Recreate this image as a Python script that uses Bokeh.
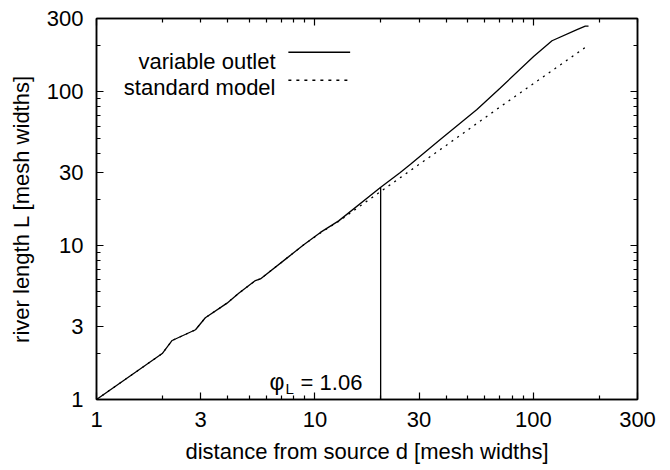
from bokeh.plotting import figure
from bokeh.models import Range1d, LogAxis, FixedTicker, Label, Arrow, PrintfTickFormatter
from bokeh.embed import file_html
from bokeh.resources import INLINE

# ---- data ----
d_variable = [1, 2.0, 2.22, 2.84, 3.15, 3.96, 4.48, 5.34, 5.63, 7.59, 8.89, 10.6, 12.85,
              19.95, 24.6, 27.4, 37.5, 55.2, 70.6, 100.3, 121.8, 158.5, 173, 179]
L_variable = [1, 1.99, 2.42, 2.84, 3.40, 4.23, 4.91, 5.93, 6.08, 8.49, 10.15, 12.2, 14.5,
              23.9, 29.9, 33.8, 49.1, 76.9, 106, 170, 215, 254, 268, 268]

d_standard = [1, 2.0, 2.22, 2.84, 3.15, 3.96, 4.48, 5.34, 5.63, 7.59, 8.89, 10.6, 12.85,
              16, 20, 24.6, 40, 70.6, 117, 176]
L_standard = [1, 1.99, 2.42, 2.84, 3.40, 4.23, 4.91, 5.93, 6.08, 8.49, 10.15, 12.1, 14.4,
              18.0, 22.5, 27.7, 45, 80, 132, 198]

phi_d = 20.0
phi_L_top = 23.9
phi_value_text = "= 1.06"

series_names = ["variable outlet", "standard model"]

tick_labels = [1, 3, 10, 30, 100, 300]
decade_ticks = [1, 10, 100]
all_minor = [2, 3, 4, 5, 6, 7, 8, 9, 20, 30, 40, 50, 60, 70, 80, 90, 200, 300]
labeled_minor = [v for v in all_minor if v not in tick_labels]

x_label = "distance from source d [mesh widths]"
y_label = "river length L [mesh widths]"

# ---- layout / style ----
FONT = "Liberation Sans"
FS = "22px"

p = figure(width=668, height=470, x_axis_type="log", y_axis_type="log",
           x_range=Range1d(1, 300), y_range=Range1d(1, 300),
           output_backend="svg", toolbar_location=None,
           min_border_left=96, min_border_right=31, min_border_top=18, min_border_bottom=71)
p.grid.visible = False
p.outline_line_color = "black"
p.outline_line_width = 1.5
p.background_fill_color = "white"
p.border_fill_color = "white"


def style_axis(ax, labeled):
    ax.axis_line_color = "black"
    ax.axis_line_width = 1.5
    ax.major_tick_line_color = "black"
    ax.minor_tick_line_color = "black"
    ax.major_tick_line_width = 1.2
    ax.minor_tick_line_width = 1.2
    ax.major_tick_out = 0
    ax.minor_tick_out = 0
    ax.major_tick_in = 7
    ax.minor_tick_in = 4
    if labeled:
        ax.ticker = FixedTicker(ticks=tick_labels, minor_ticks=labeled_minor)
        ax.formatter = PrintfTickFormatter(format="%d")
        ax.major_label_text_font = FONT
        ax.major_label_text_font_size = FS
        ax.major_label_text_color = "black"
        ax.axis_label_text_font = FONT
        ax.axis_label_text_font_size = FS
        ax.axis_label_text_font_style = "normal"
        ax.axis_label_text_color = "black"
    else:
        ax.ticker = FixedTicker(ticks=decade_ticks, minor_ticks=all_minor)
        ax.major_label_overrides = {1: " ", 10: " ", 100: " "}
        ax.major_label_text_font_size = "2px"
        ax.major_label_text_alpha = 0
        ax.major_label_standoff = 0


xa = p.xaxis[0]
ya = p.yaxis[0]
style_axis(xa, True)
style_axis(ya, True)
xa.axis_label = x_label
ya.axis_label = y_label
xa.major_label_standoff = 12
xa.axis_label_standoff = 9
ya.major_label_standoff = 13
ya.axis_label_standoff = 10

top = LogAxis()
right = LogAxis()
style_axis(top, False)
style_axis(right, False)
p.add_layout(top, "above")
p.add_layout(right, "right")

# ---- data marks ----
p.line(d_variable, L_variable, line_color="black", line_width=1.3)
p.line(d_standard, L_standard, line_color="black", line_width=1.3, line_dash="2 5")
p.segment(x0=[phi_d], y0=[1], x1=[phi_d], y1=[phi_L_top], line_color="black", line_width=1.3)

# ---- phi label ----
p.add_layout(Label(x=6.2, y=1.295, text="\u03c6", text_font=FONT, text_font_size="23px",
                   text_align="left", text_baseline="alphabetic", text_color="black"))
p.add_layout(Label(x=7.33, y=1.18, text="L", text_font=FONT, text_font_size="15px",
                   text_align="left", text_baseline="alphabetic", text_color="black"))
p.add_layout(Label(x=8.6, y=1.295, text=phi_value_text, text_font=FONT, text_font_size=FS,
                   text_align="left", text_baseline="alphabetic", text_color="black"))

# ---- legend (text right-aligned, sample on the right) ----
LEG_TEXT_X = 6.6
LEG_X0, LEG_X1 = 7.56, 14.5
LEG_TEXT_Y = [158, 106]
LEG_LINE_Y = [181, 119]
LEG_DASH = ["solid", "3 5"]
for name, ty, ly, dash in zip(series_names, LEG_TEXT_Y, LEG_LINE_Y, LEG_DASH):
    p.add_layout(Label(x=LEG_TEXT_X, y=ty, text=name, text_font=FONT, text_font_size=FS,
                       text_align="right", text_baseline="alphabetic", text_color="black"))
    p.add_layout(Arrow(end=None, x_start=LEG_X0, y_start=ly, x_end=LEG_X1, y_end=ly,
                       line_color="black", line_width=1.4, line_dash=dash))

open("out.html", "w").write(file_html(p, INLINE))
